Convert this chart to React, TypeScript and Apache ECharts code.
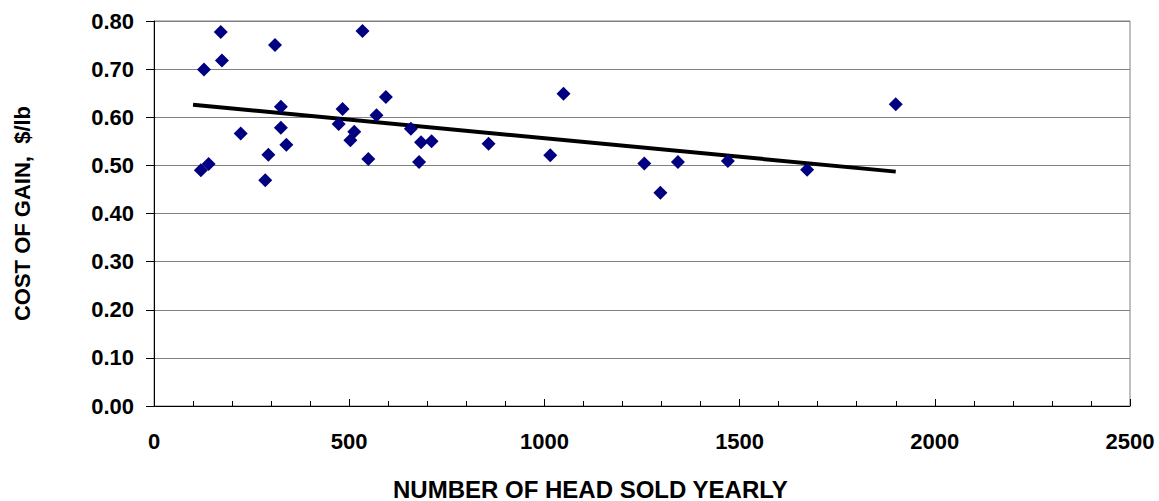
import React, { useEffect, useRef } from "react";
import * as echarts from "echarts";

const headSold = [120, 140, 128, 171, 174, 222, 285, 293, 310, 325, 325, 339, 473, 483, 503, 513, 534, 549, 570, 594, 658, 679, 684, 711, 857, 1015, 1049, 1256, 1297, 1342, 1470, 1673, 1900];
const costOfGain = [0.49, 0.503, 0.699, 0.777, 0.718, 0.566, 0.469, 0.522, 0.75, 0.622, 0.578, 0.543, 0.586, 0.617, 0.552, 0.57, 0.779, 0.513, 0.604, 0.642, 0.576, 0.507, 0.548, 0.55, 0.545, 0.521, 0.649, 0.504, 0.443, 0.507, 0.509, 0.491, 0.627];
const trendX = [100, 1900];
const trendY = [0.626, 0.487];
const xTitle = "NUMBER OF HEAD SOLD YEARLY";
const yTitle = "COST OF GAIN,  $/lb";

const FONT = "'Liberation Sans', Arial, sans-serif";

export default function App() {
  const ref = useRef<HTMLDivElement>(null);
  useEffect(() => {
    if (!ref.current) return;
    const chart = echarts.init(ref.current, null, { renderer: "svg" });
    const points = headSold.map((x, i) => [x, costOfGain[i]]);
    const trend = trendX.map((x, i) => [x, trendY[i]]);
    chart.setOption({
      animation: false,
      backgroundColor: "#ffffff",
      grid: {
        left: 154,
        right: 29,
        top: 21,
        bottom: 95,
        show: true,
        borderColor: "#808080",
        borderWidth: 1,
        containLabel: false,
        outerBoundsMode: "none",
      },
      graphic: [
        {
          type: "text",
          left: 393,
          bottom: 0,
          style: {
            text: xTitle,
            fontFamily: FONT,
            fontWeight: "bold",
            fontSize: 24,
            lineHeight: 20,
            fill: "#000",
          },
        },
      ],
      xAxis: {
        type: "value",
        min: 0,
        max: 2500,
        interval: 500,
        axisLine: { show: true, onZero: false, lineStyle: { color: "#000", width: 1 } },
        axisTick: { show: true, inside: true, length: 7, lineStyle: { color: "#000" } },
        minorTick: { show: true, splitNumber: 5, length: 5, lineStyle: { color: "#000" } },
        splitLine: { show: false },
        axisLabel: {
          fontFamily: FONT,
          fontWeight: "bold",
          fontSize: 22,
          color: "#000",
          margin: 24,
          formatter: (v: number) => String(v),
        },
      },
      yAxis: {
        type: "value",
        min: 0,
        max: 0.8,
        interval: 0.1,
        name: yTitle,
        nameLocation: "middle",
        nameGap: 121,
        nameTextStyle: { fontFamily: FONT, fontWeight: "bold", fontSize: 22, color: "#000" },
        axisLine: { show: true, onZero: false, lineStyle: { color: "#000", width: 1 } },
        axisTick: { show: true, inside: false, length: 8, lineStyle: { color: "#000" } },
        splitLine: { show: true, lineStyle: { color: "#808080", width: 1 } },
        axisLabel: {
          fontFamily: FONT,
          fontWeight: "bold",
          fontSize: 22,
          color: "#000",
          margin: 20,
          formatter: (v: number) => v.toFixed(2),
        },
      },
      series: [
        {
          type: "line",
          data: trend,
          symbol: "none",
          lineStyle: { color: "#000", width: 4 },
          z: 2,
        },
        {
          type: "scatter",
          data: points,
          symbol: "diamond",
          symbolSize: 14,
          itemStyle: { color: "#000080", opacity: 1 },
          z: 3,
        },
      ],
    });
    return () => chart.dispose();
  }, []);
  return (
    <div
      ref={ref}
      style={{ position: "fixed", left: 0, top: 0, width: 1159, height: 501, background: "#fff" }}
    />
  );
}
